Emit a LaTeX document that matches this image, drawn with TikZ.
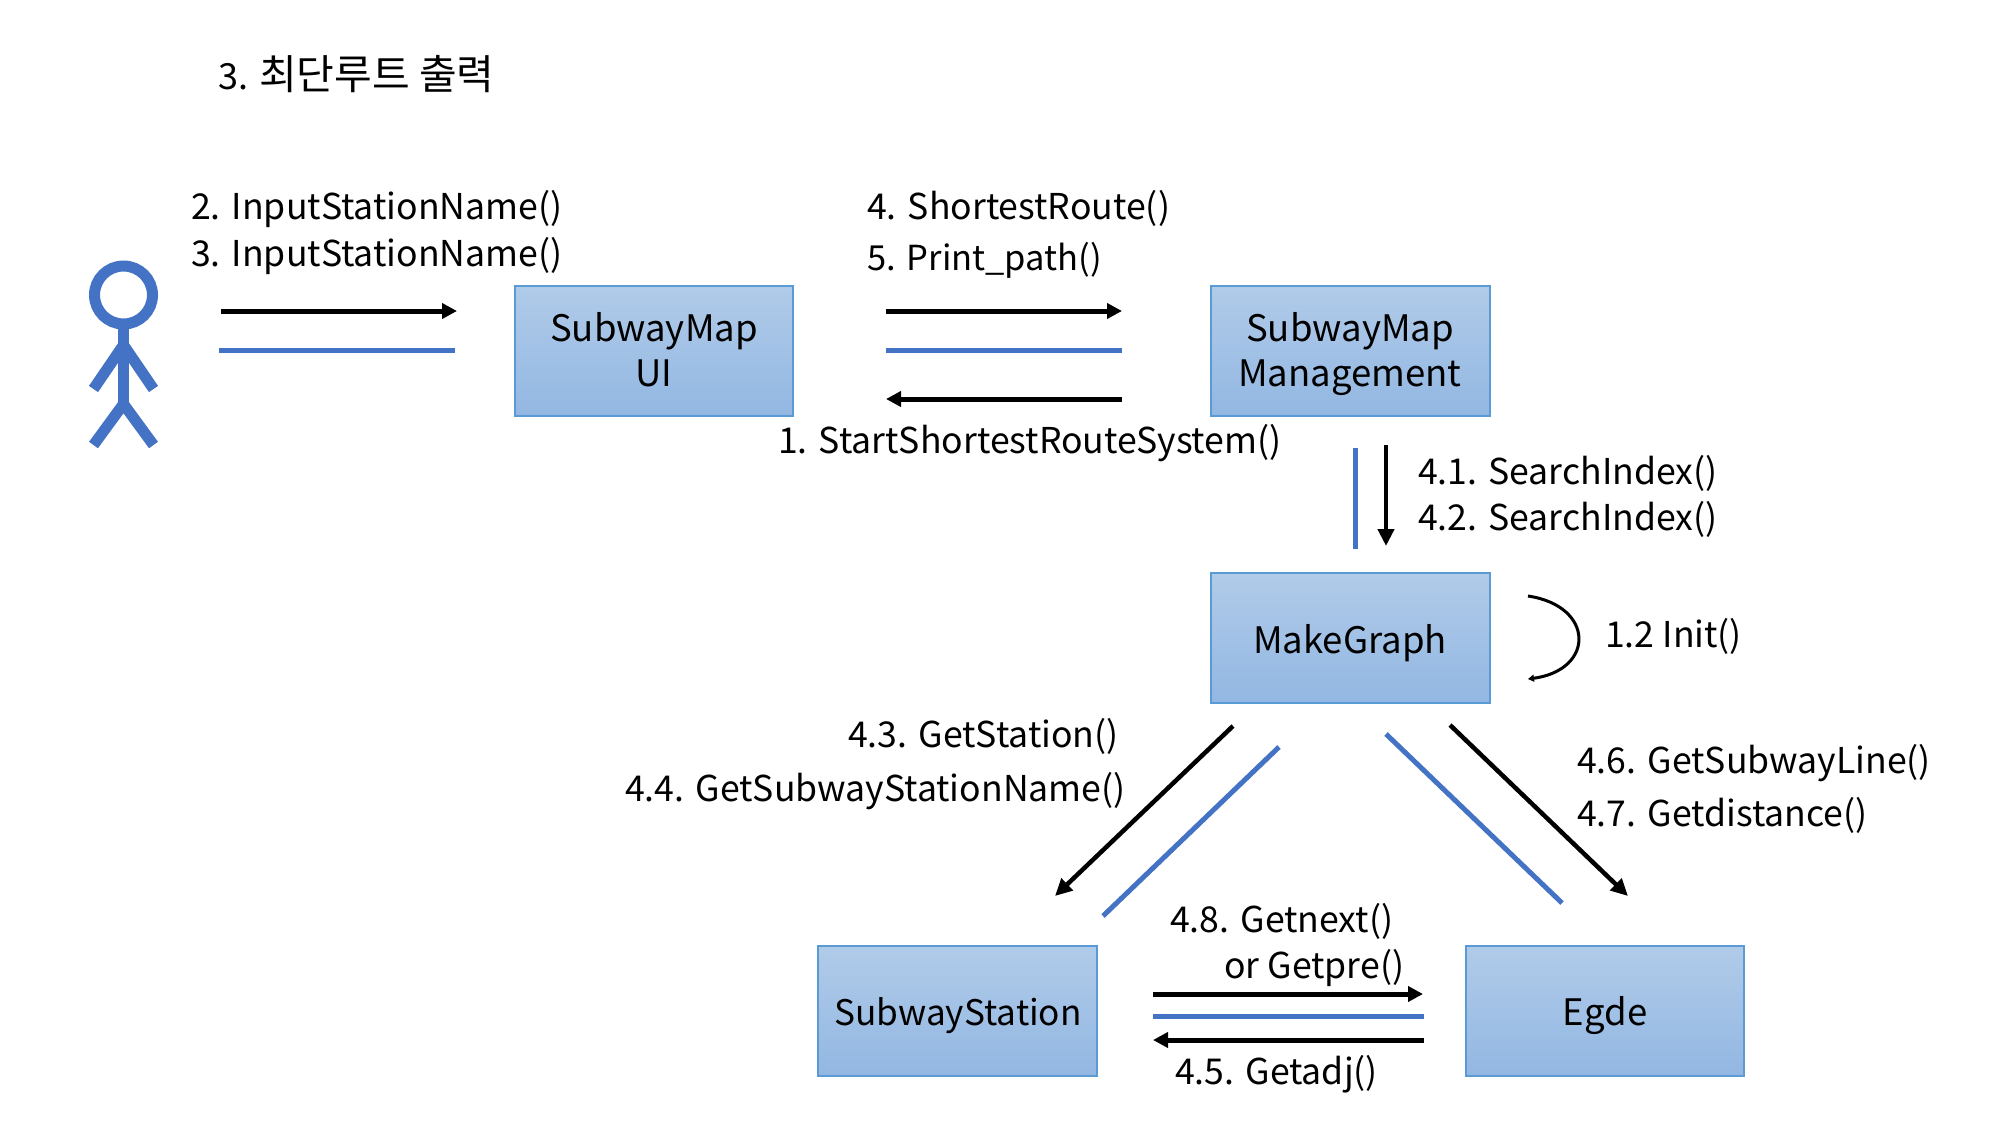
\documentclass[tikz,border=0pt]{standalone}
\usepackage{fontspec}
\setmainfont{Noto Sans CJK KR}
\usetikzlibrary{arrows.meta}
\definecolor{lineblue}{HTML}{4472C4}
\definecolor{boxedge}{HTML}{5B9BD5}
\definecolor{boxtop}{HTML}{B1CBE9}
\definecolor{boxbot}{HTML}{92B7E2}
\newcommand{\gp}{\hspace{11pt}}
\tikzset{
  x=1pt,y=-1pt,
  classbox/.style={draw=boxedge,line width=1.3pt,top color=boxtop,bottom color=boxbot,shading angle=0},
  lbl/.style={anchor=base west,inner sep=0pt,font=\fontsize{35.6}{44}\selectfont},
  hangul/.style={anchor=base west,inner sep=0pt,font=\fontsize{41}{44}\selectfont},
  boxlbl/.style={anchor=base,inner sep=0pt,font=\fontsize{36.5}{44}\selectfont},
  msg/.style={draw=black,line width=5pt,-{Triangle[length=15pt,width=15pt]}},
  msgthin/.style={draw=black,line width=4.5pt,-{Triangle[length=17pt,width=16pt]}},
  link/.style={draw=lineblue,line width=5pt},
  actor/.style={draw=lineblue,line width=11pt},
}
\begin{document}
\begin{tikzpicture}
\useasboundingbox (0,0) rectangle (2000,1125);
\fill[white] (0,0) rectangle (2000,1125);
% boxes
\path[classbox] (515,286) rectangle (793,416);
\path[classbox] (1211,286) rectangle (1490,416);
\path[classbox] (1211,573) rectangle (1490,703);
\path[classbox] (818,946) rectangle (1097,1076);
\path[classbox] (1466,946) rectangle (1744,1076);
\node[boxlbl] (ui1) at (654,341) {SubwayMap};
\node[boxlbl] (ui2) at (654,386) {UI};
\node[boxlbl] (mg1) at (1350,341) {SubwayMap};
\node[boxlbl] (mg2) at (1350,386) {Management};
\node[boxlbl] (mk) at (1350,653) {MakeGraph};
\node[boxlbl,font=\fontsize{35.2}{44}\selectfont] (ss) at (958,1025) {SubwayStation};
\node[boxlbl] (eg) at (1605,1025) {Egde};
% actor
\draw[actor] (123.5,295) circle (29);
\draw[actor] (123.5,324) -- (123.5,404);
\draw[actor] (93.5,389) -- (123.5,345) -- (153.5,389);
\draw[actor] (93.5,445) -- (123.5,404) -- (153.5,445);
% free ends
\coordinate (a1) at (221,311); \coordinate (a2) at (457,311);
\coordinate (b1) at (219,350); \coordinate (b2) at (455,350);
\coordinate (c1) at (886,311); \coordinate (c2) at (1122,311);
\coordinate (d1) at (886,350); \coordinate (d2) at (1122,350);
\coordinate (e1) at (1122,399); \coordinate (e2) at (886,399);
\coordinate (f1) at (1355,448); \coordinate (f2) at (1355,549);
\coordinate (g1) at (1386,445); \coordinate (g2) at (1386,546);
\coordinate (h1) at (1233,726); \coordinate (h2) at (1055,896);
\coordinate (i1) at (1279,747); \coordinate (i2) at (1103,916);
\coordinate (j1) at (1386,734); \coordinate (j2) at (1562,903);
\coordinate (k1) at (1450,725); \coordinate (k2) at (1628,896);
\coordinate (l1) at (1153,994); \coordinate (l2) at (1423,994);
\coordinate (m1) at (1153,1016); \coordinate (m2) at (1424,1016);
\coordinate (n1) at (1424,1040); \coordinate (n2) at (1153,1040);
\coordinate (o1) at (1528,596); \coordinate (o2) at (1528,679);
\draw[msg] (a1) -- (a2);
\draw[link] (b1) -- (b2);
\draw[msg] (c1) -- (c2);
\draw[link] (d1) -- (d2);
\draw[msg] (e1) -- (e2);
\draw[link] (f1) -- (f2);
\draw[msgthin] (g1) -- (g2);
\draw[msgthin] (h1) -- (h2);
\draw[link] (i1) -- (i2);
\draw[link] (j1) -- (j2);
\draw[msgthin] (k1) -- (k2);
\draw[msg] (l1) -- (l2);
\draw[link] (m1) -- (m2);
\draw[msg] (n1) -- (n2);
\draw[draw=black,line width=3pt,-{Triangle[length=6pt,width=7pt]}] (o1) .. controls (1595,606) and (1595,670) .. (o2);
% labels
\node[hangul] (t0) at (218,89) {{\fontsize{36}{44}\selectfont 3.\gp}최단루트 출력};
\node[lbl] (t1) at (191,219) {2.\gp InputStationName()};
\node[lbl] (t2) at (191,266) {3.\gp InputStationName()};
\node[lbl] (t3) at (867,219) {4.\gp ShortestRoute()};
\node[lbl,font=\fontsize{34.5}{44}\selectfont] (t4) at (867,270) {5.\gp Print\_path()};
\node[lbl] (t5) at (778,453.5) {1.\gp StartShortestRouteSystem()};
\node[lbl] (t6) at (1418,484) {4.1.\gp SearchIndex()};
\node[lbl] (t7) at (1418,530) {4.2.\gp SearchIndex()};
\node[lbl] (t8) at (1605,647) {1.2 Init()};
\node[lbl] (t9) at (848,747.5) {4.3.\gp GetStation()};
\node[lbl] (t10) at (625,801.5) {4.4.\gp GetSubwayStationName()};
\node[lbl] (t11) at (1577,773.5) {4.6.\gp GetSubwayLine()};
\node[lbl] (t12) at (1577,826.5) {4.7.\gp Getdistance()};
\node[lbl] (t13) at (1170,932) {4.8.\gp Getnext()};
\node[lbl] (t14) at (1224,978) {or Getpre()};
\node[lbl] (t15) at (1175,1084) {4.5.\gp Getadj()};
\end{tikzpicture}
\end{document}
